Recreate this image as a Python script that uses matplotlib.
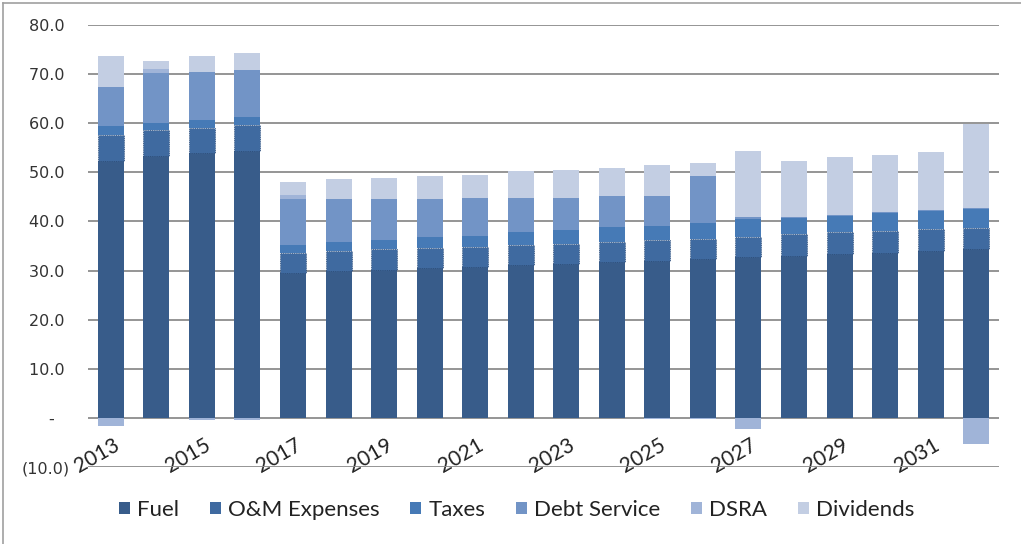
import numpy as np
import matplotlib
matplotlib.use("Agg")
import matplotlib.pyplot as plt
from matplotlib.transforms import ScaledTranslation
from matplotlib.lines import Line2D

# Annual cash-flow uses (millions), stacked by category
years = list(range(2013, 2033))
fuel = [52.4, 53.3, 53.9, 54.3, 29.5, 29.9, 30.2, 30.5, 30.7, 31.1,
        31.4, 31.8, 32.0, 32.4, 32.7, 33.0, 33.3, 33.6, 33.9, 34.3]
om_expenses = [5.3, 5.4, 5.1, 5.4, 4.0, 4.1, 4.1, 4.1, 4.1, 4.1,
               4.1, 4.0, 4.2, 4.1, 4.1, 4.4, 4.5, 4.5, 4.5, 4.4]
taxes = [1.7, 1.3, 1.6, 1.6, 1.7, 1.9, 1.9, 2.2, 2.3, 2.6,
         2.7, 3.0, 2.9, 3.2, 3.6, 3.2, 3.4, 3.7, 3.8, 3.8]
debt_service = [7.9, 10.2, 9.9, 9.5, 9.3, 8.6, 8.3, 7.7, 7.7, 7.0,
                6.6, 6.3, 6.0, 9.5, 0.5, 0.3, 0.2, 0.2, 0.2, 0.2]
dsra = [-1.6, 0.9, -0.4, -0.4, 0.9, 0.0, 0.0, 0.0, 0.0, 0.0,
        0.0, 0.0, -0.3, -0.3, -2.3, 0.0, 0.0, 0.0, 0.0, -5.4]
dividends = [6.4, 1.6, 3.2, 3.5, 2.6, 4.1, 4.4, 4.7, 4.7, 5.4,
             5.7, 5.7, 6.4, 2.6, 13.4, 11.5, 11.7, 11.5, 11.8, 17.2]

series_names = ["Fuel", "O&M Expenses", "Taxes", "Debt Service", "DSRA", "Dividends"]
series_values = [fuel, om_expenses, taxes, debt_service, dsra, dividends]
colors = ["#385C8A", "#3F6AA0", "#467AB6", "#7294C6", "#A0B4D8", "#C3CEE3"]

y_ticks = [-10, 0, 10, 20, 30, 40, 50, 60, 70, 80]

label_font = ["Lato", "DejaVu Sans"]

fig = plt.figure(figsize=(10.21, 5.44), dpi=100)
ax = fig.add_axes([88 / 1021, 1 - 467 / 544, (999 - 88) / 1021, (467 - 25) / 544])

x = np.arange(len(years))
pos_base = np.zeros(len(years))
neg_base = np.zeros(len(years))
handles = []
for name, vals, col in zip(series_names, series_values, colors):
    v = np.asarray(vals, dtype=float)
    bottoms = np.where(v >= 0, pos_base, neg_base)
    kw = dict(color=col, width=0.57, zorder=3)
    if name == "O&M Expenses":
        kw.update(edgecolor="#2C4A74", linewidth=0.6, linestyle=":")
    else:
        kw.update(linewidth=0)
    ax.bar(x, v, bottom=bottoms, **kw)
    pos_base += np.where(v >= 0, v, 0)
    neg_base += np.where(v < 0, v, 0)
    handles.append(plt.Rectangle((0, 0), 1, 1, facecolor=col, edgecolor="none"))

ax.set_xlim(-0.5, len(years) - 0.5)
ax.set_ylim(-10, 80)

# horizontal gridlines
ax.set_yticks(y_ticks)
ax.yaxis.grid(True, color="#8C8C8C", linewidth=1.3, zorder=1)
ax.set_axisbelow(True)

def fmt(v):
    if v < 0:
        return f"({abs(v):.1f})"
    if v == 0:
        return "-   "
    return f"{v:.1f} "

ax.set_yticklabels([fmt(v) for v in y_ticks], fontsize=11.5, color="#333333",
                   family="DejaVu Sans")
ax.tick_params(axis="y", length=0, pad=13)

# category axis sits on the zero line
ax.spines["bottom"].set_position(("data", 0))
for s in ax.spines.values():
    s.set_visible(False)
ax.set_xticks(x[::2])
ax.set_xticklabels([str(y) for y in years[::2]], rotation=30, ha="right",
                   va="top", rotation_mode="anchor", fontsize=15,
                   color="#222222", family=label_font)
ax.tick_params(axis="x", length=0, pad=12)
offset = ScaledTranslation(2 / 100, 0, fig.dpi_scale_trans)
for lbl in ax.get_xticklabels():
    lbl.set_transform(lbl.get_transform() + offset)

fig.legend(handles, series_names, loc="center", bbox_to_anchor=(0.506, 1 - 510 / 544),
           ncol=6, frameon=False, prop={"family": label_font, "size": 16},
           handlelength=0.5, handleheight=0.5, handletextpad=0.3,
           columnspacing=1.4, labelcolor="#222222")

# outer chart frame (top and left edges)
fig.add_artist(Line2D([3 / 1021, 3 / 1021], [0, 1 - 3 / 544], transform=fig.transFigure,
                      color="#A0A0A0", linewidth=1.2))
fig.add_artist(Line2D([3 / 1021, 1], [1 - 3 / 544, 1 - 3 / 544], transform=fig.transFigure,
                      color="#A0A0A0", linewidth=1.2))

fig.savefig("out.png", dpi=100)
